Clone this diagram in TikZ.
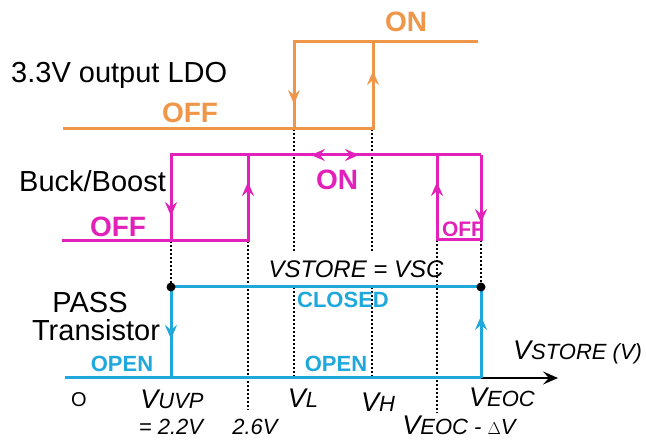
\documentclass[tikz,border=0pt]{standalone}
\usepackage{fontspec}
\setmainfont{Liberation Sans}
\usetikzlibrary{arrows.meta}

\definecolor{ldo}{RGB}{240,150,72}
\definecolor{buck}{RGB}{226,32,186}
\definecolor{pass}{RGB}{30,168,220}

\newcommand{\vname}[1]{{\fontsize{27}{27}\selectfont V}{\fontsize{22}{22}\selectfont #1}}

\tikzset{
  trace/.style={line width=3pt},
  tip/.style={-{Stealth[length=14pt,width=12pt,inset=5pt]}},
  guide/.style={line width=2pt, dash pattern=on 2pt off 2pt},
  lbl/.style={inner sep=0pt, anchor=base, font=\fontsize{29}{29}\selectfont},
  state/.style={inner sep=0pt, anchor=base, font=\bfseries\fontsize{28}{28}\selectfont},
  smallstate/.style={inner sep=0pt, anchor=base, font=\bfseries\fontsize{22}{22}\selectfont},
  vlbl/.style={inner sep=0pt, anchor=base, font=\itshape\fontsize{22}{22}\selectfont}
}

\begin{document}
\begin{tikzpicture}[x=1pt,y=-1pt]
   \useasboundingbox (0,0) rectangle (646,443);

   \draw[guide] (171,241) -- (171,287);
   \draw[guide] (248,241) -- (248,410);
   \draw[guide] (294,129) -- (294,252);
   \draw[guide] (294,287) -- (294,378);
   \draw[guide] (372,129) -- (372,252);
   \draw[guide] (372,287) -- (372,378);
   \draw[guide] (437,240) -- (437,413);
   \draw[guide] (481,240) -- (481,287);

   \draw[trace,ldo] (63,129) -- (373,129) -- (373,42);
   \draw[trace,ldo] (478,42) -- (294,42) -- (294,129);
   \draw[trace,ldo,tip] (294,86) -- (294,104);
   \draw[trace,ldo,tip] (373,90) -- (373,71);

   \draw[trace,buck] (62,241) -- (248,241) -- (248,155);
   \draw[trace,buck] (481,155) -- (171,155) -- (171,241);
   \draw[trace,buck] (437,155) -- (437,240) -- (481,240) -- (481,155);
   \draw[trace,buck,tip] (171,198) -- (171,216);
   \draw[trace,buck,tip] (248,201) -- (248,182);
   \draw[trace,buck,tip] (437,201) -- (437,182);
   \draw[trace,buck,tip] (481,204) -- (481,223);
   \draw[trace,buck,tip] (332,155) -- (311,155);
   \draw[trace,buck,tip] (338,155) -- (359,155);

   \draw[line width=2.5pt,-{Stealth[length=15pt,width=13pt,inset=6pt]}] (481,378) -- (558,378);
   \draw[trace,pass] (65,378) -- (481,378);
   \draw[trace,pass] (171,287) -- (481,287);
   \draw[trace,pass] (171,287) -- (171,378);
   \draw[trace,pass] (481,378) -- (481,287);
   \draw[trace,pass,tip] (171,320) -- (171,339);
   \draw[trace,pass,tip] (481,335) -- (481,316);
   \fill (171,287) circle (4.5pt);
   \fill (481,287) circle (4.5pt);

   \node[lbl,anchor=base west] (ldoname) at (11,83) {3.3V output LDO};
   \node[state,ldo] (ldooff) at (190,123) {OFF};
   \node[state,ldo] (ldoon) at (406,32) {ON};

   \node[lbl,anchor=base west] (buckname) at (19,192) {Buck/Boost};
   \node[state,buck] (buckoff) at (118,237) {OFF};
   \node[state,buck] (buckon) at (337,190) {ON};
   \node[state,buck,font=\bfseries\fontsize{21}{21}\selectfont] (buckoffeoc) at (463,237) {OFF};

   \node[lbl] (passname) at (90,313) {PASS};
   \node[lbl] (passtrans) at (96,341) {Transistor};
   \node[smallstate,pass] (openlow) at (122,372) {OPEN};
   \node[smallstate,pass] (openmid) at (336,372) {OPEN};
   \node[smallstate,pass] (closed) at (343,308) {CLOSED};
   \node[vlbl,font=\itshape\fontsize{24}{24}\selectfont] (vsc) at (356,278) {VSTORE = VSC};

   \node[vlbl,anchor=base west] (vstore) at (513,360) {\vname{STORE (V)}};
   \node[vlbl,font=\fontsize{20}{20}\selectfont] (origin) at (79,407) {O};
   \node[vlbl] (vuvp) at (172,409) {\vname{UVP}};
   \node[vlbl] (vuvpval) at (171,435) {= 2.2V};
   \node[vlbl] (vtwosix) at (255,435) {2.6V};
   \node[vlbl] (vl) at (303,408) {\vname{L}};
   \node[vlbl] (vh) at (378,412) {\vname{H}};
   \node[vlbl] (veoc) at (502,407) {\vname{EOC}};
   \node[vlbl] (veocdv) at (459,435) {\vname{EOC - }{\fontsize{17}{17}\selectfont$\Delta$}V};
\end{tikzpicture}
\end{document}
